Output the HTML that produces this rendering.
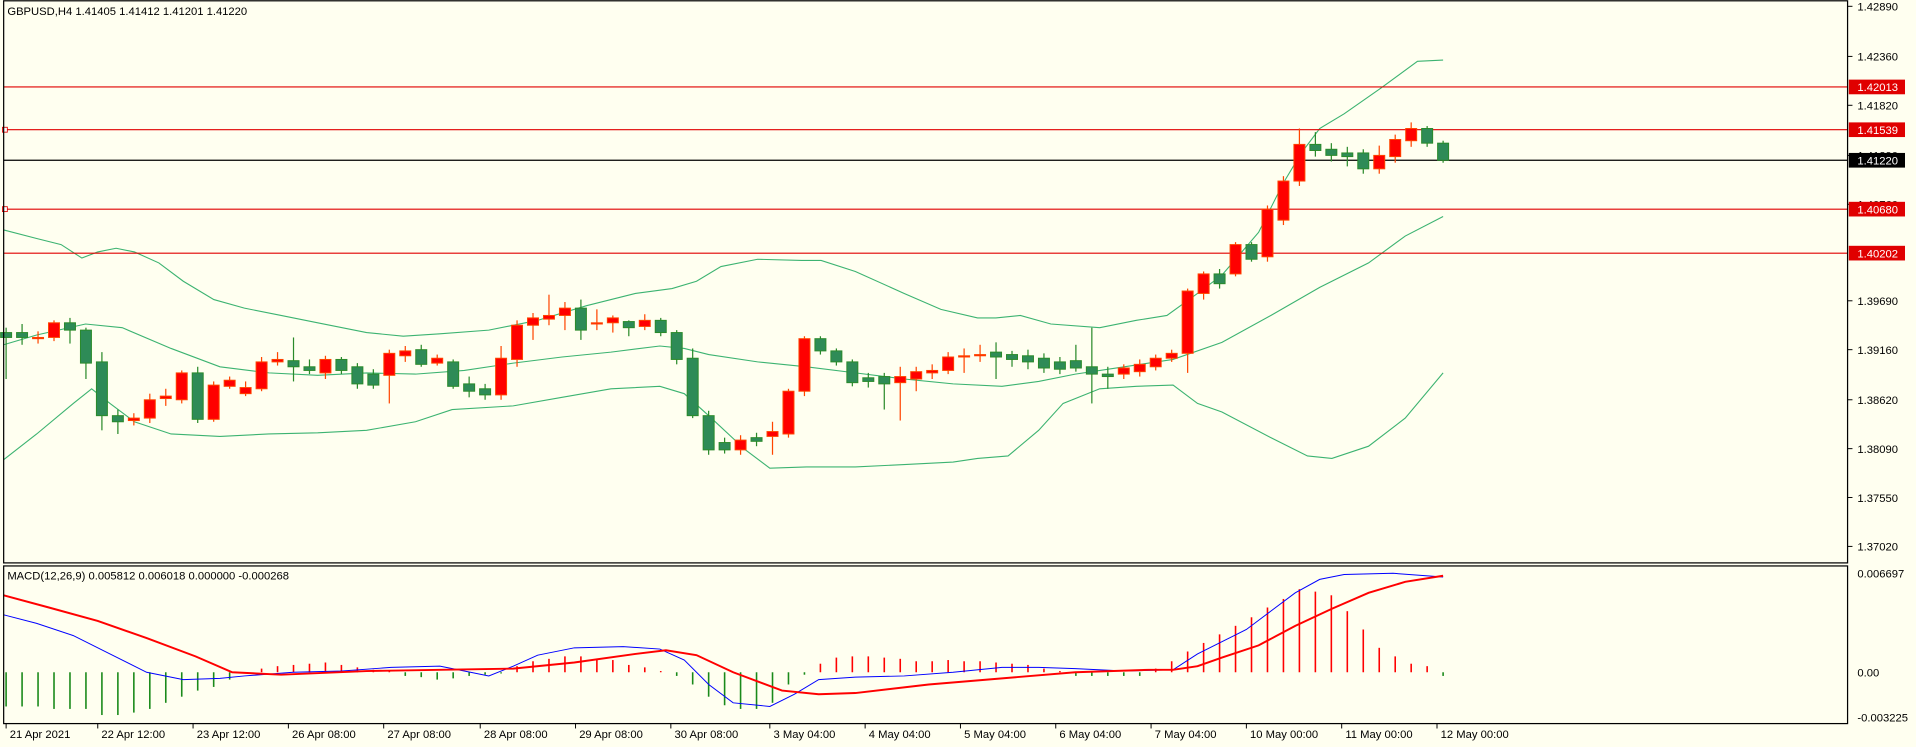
<!DOCTYPE html>
<html><head><meta charset="utf-8"><style>
html,body{margin:0;padding:0;background:#fffff0;}
svg{display:block;font-family:"Liberation Sans",sans-serif;}
</style></head><body>
<svg id="c" width="1916" height="747" viewBox="0 0 1568 611" xmlns="http://www.w3.org/2000/svg">
<rect width="1568" height="611" fill="#fffff0"/>
</svg>
<script>
var s=document.getElementById('c'),NS='http://www.w3.org/2000/svg';
function el(t,a,txt){var e=document.createElementNS(NS,t);for(var k in a)e.setAttribute(k,a[k]);if(txt!=null)e.textContent=txt;s.appendChild(e);return e;}
// candles: [open y, close y, high y, low y]  color by open<close (y) => red if close above open
var C=[[276,272,268,310,'g'],[272,276,265,282,'g'],[276,276,271,281,'r'],[276,264,262,279,'r'],[264,270,260,281,'g'],[270,297,268,310,'g'],[296,340,288,352,'g'],[340,345,335,355,'g'],[344,342,338,348,'r'],[342,327,322,346,'r'],[326,324,318,332,'r'],[327,305,303,330,'r'],[305,343,300,346,'g'],[343,315,312,345,'r'],[316,311,308,318,'r'],[322,317,312,324,'r'],[318,296,292,320,'r'],[296,294,288,299,'r'],[295,300,276,312,'g'],[300,303,294,306,'g'],[305,294,291,310,'r'],[294,303,292,306,'g'],[300,314,297,318,'g'],[306,315,302,318,'g'],[307,289,286,330,'r'],[291,287,283,296,'r'],[286,298,282,300,'g'],[297,293,290,299,'r'],[296,316,294,318,'g'],[314,320,308,325,'g'],[318,323,314,327,'g'],[323,293,283,327,'r'],[294,266,262,300,'r'],[266,260,256,278,'r'],[261,258,241,266,'r'],[258,252,247,270,'r'],[252,270,245,278,'g'],[265,264,253,270,'r'],[264,260,258,272,'r'],[263,268,262,275,'g'],[267,262,257,270,'r'],[262,272,260,275,'g'],[272,294,270,298,'g'],[293,340,285,342,'g'],[340,368,336,372,'g'],[362,368,358,371,'g'],[368,360,356,372,'r'],[361,358,354,365,'g'],[357,353,345,372,'r'],[355,320,318,358,'r'],[320,277,275,324,'r'],[277,287,275,290,'g'],[287,296,285,299,'g'],[296,313,294,316,'g'],[309,312,305,317,'g'],[308,314,305,335,'g'],[313,308,300,344,'r'],[310,304,300,320,'r'],[305,303,298,310,'r'],[303,292,288,306,'r'],[291,291,285,305,'r'],[290,290,282,296,'r'],[288,292,280,310,'g'],[290,294,287,300,'g'],[291,296,286,302,'g'],[293,301,289,305,'g'],[296,302,292,306,'g'],[295,301,282,304,'g'],[300,306,268,330,'g'],[306,308,300,318,'g'],[306,301,298,310,'r'],[304,298,294,308,'r'],[300,293,290,303,'r'],[293,289,286,296,'r'],[289,238,236,305,'r'],[240,224,222,245,'r'],[224,232,220,236,'g'],[224,200,198,226,'r'],[200,212,198,214,'g'],[210,171,168,214,'r'],[180,148,144,184,'r'],[148,118,105,152,'r'],[118,123,108,128,'g'],[122,127,117,132,'g'],[125,128,120,136,'g'],[125,138,122,142,'g'],[138,127,119,142,'r'],[128,114,110,133,'r'],[115,105,100,120,'r'],[105,117,103,120,'g'],[117,131,115,133,'g']];
var n=C.length,x0=5,dx=(1181-5)/(n-1);
function X(i){return x0+i*dx;}
// bands
function poly(p,col,w){el('polyline',{points:p.map(function(q){return q.join(',')}).join(' '),fill:'none',stroke:col,'stroke-width':w||0.9});}
var g='#3cb371';
poly([[3,188],[30,195],[50,200],[67,211],[80,206],[95,203],[110,206],[130,215],[150,230],[175,245],[200,252],[230,258],[260,264],[300,272],[330,275],[360,273],[400,270],[440,262],[480,250],[520,240],[550,236],[570,230],[590,218],[620,212],[656,213],[672,213],[700,222],[740,240],[770,253],[800,260],[815,260],[835,258],[860,265],[900,268],[930,262],[955,258],[980,240],[1000,225],[1030,190],[1050,150],[1065,125],[1080,105],[1100,93],[1130,72],[1160,50],[1181,49]],g);
poly([[3,282],[30,274],[70,265],[100,268],[140,285],[180,300],[220,305],[260,307],[300,305],[340,306],[380,303],[420,297],[460,292],[500,288],[540,283],[560,285],[580,290],[620,296],[660,300],[700,305],[740,310],[780,314],[820,316],[850,312],[880,306],[920,300],[960,294],[1000,280],[1040,258],[1080,235],[1120,215],[1150,193],[1181,177]],g);
poly([[3,376],[30,355],[60,330],[75,318],[90,330],[110,345],[140,355],[180,357],[220,355],[260,354],[300,352],[340,345],[370,335],[420,332],[460,325],[500,318],[540,316],[560,322],[580,340],[610,368],[630,383],[660,382],[700,382],[740,380],[780,378],[800,375],[825,373],[850,352],[870,330],[900,318],[930,316],[960,315],[980,330],[1000,337],[1040,358],[1070,373],[1090,375],[1120,365],[1150,342],[1181,305]],g);
// level lines
[[71,'#e00000'],[106,'#e00000'],[171,'#e00000'],[207,'#e00000']].forEach(function(l){el('line',{x1:3,x2:1512,y1:l[0],y2:l[0],stroke:l[1],'stroke-width':0.9});});
el('line',{x1:3,x2:1512,y1:131,y2:131,stroke:'#000','stroke-width':1});
el('rect',{x:2,y:104,width:4,height:4,fill:'#fff',stroke:'#e00000','stroke-width':0.7});
el('rect',{x:2,y:169,width:4,height:4,fill:'#fff',stroke:'#e00000','stroke-width':0.7});
// candles
C.forEach(function(c,i){var x=X(i),red=c[4]=='r';var col=red?'#ff4500':'#2a8a2a',fill=red?'#ff0000':'#2e8b57';
el('line',{x1:x,x2:x,y1:c[2],y2:c[3],stroke:col,'stroke-width':1});
var t=Math.min(c[0],c[1]),h=Math.max(Math.abs(c[0]-c[1]),1);
el('rect',{x:x-4.5,y:t,width:9,height:h,fill:fill,stroke:col,'stroke-width':0.8});});
// MACD hist
var H=[578,578,578,580,580,580,585,585,583,580,575,570,565,562,556,551,547,545,544,543,542,544,546,548,549,553,554,556,555,553,552,551,545,541,539,537,537,539,540,544,546,549,553,560,570,577,580,580,575,560,552,543,538,537,537,538,539,541,541,540,541,541,542,543,544,547,549,553,553,553,553,553,547,541,533,526,519,512,505,497,490,482,484,487,500,515,530,537,543,545,553];
H.forEach(function(v,i){el('line',{x1:X(i),x2:X(i),y1:550,y2:v,stroke:v>550?'#1a8a1a':'#ff0000','stroke-width':1.3});});
poly([[3,503],[30,510],[60,520],[90,535],[120,550],[150,556],[180,555],[200,553],[240,550],[280,549],[320,546],[360,545],[385,550],[400,553],[420,545],[440,536],[470,530],[510,529],[540,531],[560,540],[580,560],[600,575],[630,578],[650,568],[670,556],[700,554],[740,553],[780,550],[820,546],[850,546],[880,547],[920,549],[960,548],[980,535],[1000,525],[1020,515],[1040,500],[1060,485],[1080,474],[1100,470],[1140,469],[1181,472]],'#0000ff',0.8);
poly([[3,487],[40,497],[80,508],[120,522],[160,537],[190,550],[230,552],[300,549],[360,548],[420,547],[470,542],[520,535],[545,532],[570,536],[600,550],[640,565],[670,568],[700,567],[760,560],[820,555],[880,550],[940,548],[960,548],[980,545],[1000,538],[1030,528],[1060,512],[1090,498],[1120,485],[1150,476],[1181,471]],'#ff0000',1.6);
// frames
el('rect',{x:3,y:0.5,width:1509,height:460,fill:'none',stroke:'#000','stroke-width':1});
el('rect',{x:3,y:463,width:1509,height:129,fill:'none',stroke:'#000','stroke-width':1});
// texts
var F={'font-size':9.2,fill:'#000'};
function T(x,y,t,a){var o={x:x,y:y};for(var k in F)o[k]=F[k];for(var k in a||{})o[k]=a[k];el('text',o,t);}
T(6,12,'GBPUSD,H4  1.41405 1.41412 1.41201 1.41220');
T(6,474,'MACD(12,26,9) 0.005812 0.006018 0.000000 -0.000268');
[['1.42890',5],['1.42360',46],['1.41820',86],['1.41290',127],['1.40760',167],['1.39690',246],['1.39160',286],['1.38620',327],['1.38090',367],['1.37550',407],['1.37020',447]].forEach(function(l){el('line',{x1:1512,x2:1516,y1:l[1],y2:l[1],stroke:'#000','stroke-width':0.8});T(1520,l[1]+3.5,l[0]);});
[['1.42013',71,'#e00000'],['1.41539',106,'#e00000'],['1.41220',131,'#000'],['1.40680',171,'#e00000'],['1.40202',207,'#e00000']].forEach(function(l){el('rect',{x:1513,y:l[1]-6,width:46,height:12,fill:l[2]});T(1520,l[1]+3.5,l[0],{fill:'#fff'});});
[['0.006697',469],['0.00',550],['-0.003225',587]].forEach(function(l){T(1520,l[1]+3.5,l[0]);});
[['21 Apr 2021',5],['22 Apr 12:00',80],['23 Apr 12:00',158],['26 Apr 08:00',236],['27 Apr 08:00',314],['28 Apr 08:00',393],['29 Apr 08:00',471],['30 Apr 08:00',549],['3 May 04:00',630],['4 May 04:00',708],['5 May 04:00',786],['6 May 04:00',864],['7 May 04:00',942],['10 May 00:00',1020],['11 May 00:00',1098],['12 May 00:00',1176]].forEach(function(l){el('line',{x1:l[1],x2:l[1],y1:592,y2:596,stroke:'#000','stroke-width':0.8});T(l[1]+3,604,l[0]);});
</script>
</body></html>
